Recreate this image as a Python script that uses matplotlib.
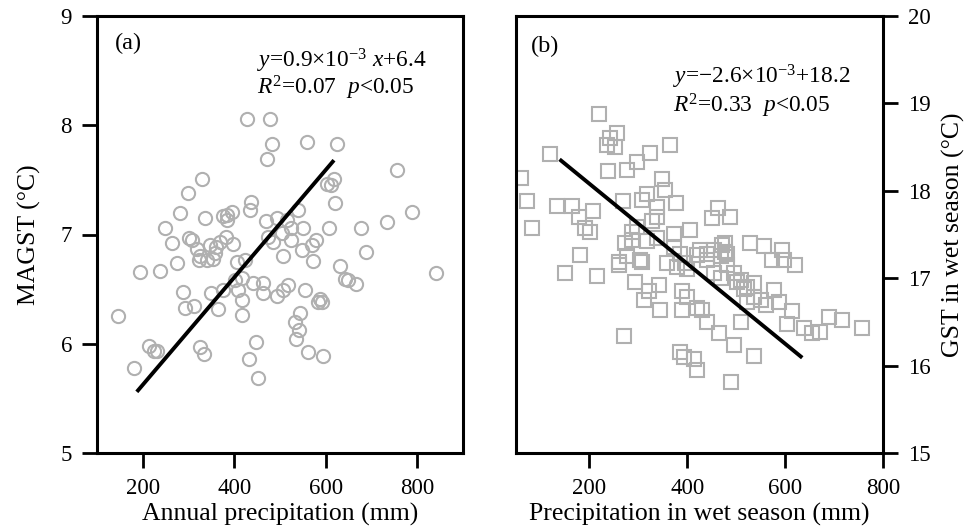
"""Two-panel scatter: ground surface temperature against precipitation.

Panel (a) is MAGST vs annual precipitation, panel (b) is GST vs
precipitation in the wet season. Values were read off the original figure.
"""
import matplotlib
matplotlib.use("Agg")
import matplotlib.pyplot as plt

# panel (a): annual precipitation (mm) vs MAGST (degC)
precip_annual = [
    428, 478, 483, 558, 625, 472, 755, 329, 298, 617, 603, 611, 621, 282, 789,
    734, 337, 437, 434, 376, 385, 395, 384, 249, 264, 300, 307, 318, 325, 275,
    194, 237, 347, 361, 369, 382, 398, 358, 354, 340, 322, 405, 424, 469, 493,
    515, 540, 474, 485, 504, 525, 551, 525, 547, 569, 578, 573, 506, 607, 678,
    687, 840, 632, 642, 649, 666, 402, 416, 440, 463, 409, 506, 518, 555, 587,
    289, 349, 376, 145, 293, 312, 365, 416, 418, 463, 493, 584, 591, 544, 533,
    541, 534, 562, 593, 447, 432, 451, 213, 224, 231, 325, 334, 180,
]
magst = [
    8.06, 8.06, 7.83, 7.85, 7.83, 7.69, 7.59, 7.51, 7.38, 7.51, 7.46, 7.45, 7.29, 7.20, 7.21,
    7.11, 7.15, 7.30, 7.22, 7.17, 7.13, 7.21, 7.18, 7.06, 6.92, 6.97, 6.95, 6.87, 6.80, 6.74,
    6.66, 6.67, 6.90, 6.89, 6.93, 6.98, 6.91, 6.83, 6.78, 6.77, 6.77, 6.75, 6.77, 7.12, 7.15,
    7.13, 7.22, 6.98, 6.93, 7.01, 7.06, 7.06, 6.95, 6.86, 6.90, 6.95, 6.76, 6.80, 7.06, 7.06,
    6.84, 6.65, 6.71, 6.59, 6.58, 6.55, 6.58, 6.60, 6.56, 6.56, 6.49, 6.49, 6.54, 6.49, 6.41,
    6.47, 6.46, 6.49, 6.25, 6.33, 6.35, 6.32, 6.40, 6.26, 6.46, 6.44, 6.38, 6.38, 6.28, 6.20,
    6.13, 6.04, 5.92, 5.89, 6.02, 5.86, 5.69, 5.98, 5.93, 5.93, 5.97, 5.91, 5.78,
]
fit_a_x = [187, 618]
fit_a_y = [5.56, 7.68]

# panel (b): wet-season precipitation (mm) vs wet-season GST (degC)
precip_wet = [
    220, 256, 242, 236, 253, 364, 120, 324, 297, 277, 237, 348, 355, 60, 72,
    82, 133, 164, 178, 208, 191, 202, 268, 318, 338, 307, 377, 338, 328, 297,
    287, 463, 451, 488, 406, 372, 181, 287, 273, 318, 338, 529, 556, 594, 574,
    597, 621, 427, 441, 454, 471, 481, 372, 386, 396, 260, 304, 150, 215, 260,
    277, 308, 359, 379, 400, 420, 440, 468, 481, 454, 495, 509, 523, 536, 294,
    321, 311, 342, 345, 389, 399, 389, 420, 430, 441, 464, 495, 468, 502, 516,
    536, 522, 550, 560, 577, 587, 615, 604, 509, 638, 655, 672, 690, 717, 758,
    271, 386, 393, 413, 420, 536, 490, 478, 478,
]
gst_wet = [
    18.88, 18.66, 18.60, 18.52, 18.50, 18.52, 18.42, 18.43, 18.33, 18.24, 18.23, 18.14, 18.01, 18.15, 17.88,
    17.58, 17.83, 17.83, 17.70, 17.77, 17.57, 17.53, 17.88, 17.96, 17.82, 17.89, 17.86, 17.70, 17.65, 17.59,
    17.53, 17.80, 17.69, 17.70, 17.55, 17.51, 17.26, 17.44, 17.40, 17.42, 17.46, 17.40, 17.37, 17.32, 17.21,
    17.21, 17.15, 17.32, 17.28, 17.32, 17.38, 17.28, 17.36, 17.28, 17.17, 17.19, 17.21, 17.06, 17.03, 17.15,
    17.25, 17.19, 17.17, 17.13, 17.11, 17.27, 17.21, 17.25, 17.15, 17.06, 17.06, 16.98, 16.90, 16.94, 16.96,
    16.85, 16.75, 16.92, 16.64, 16.85, 16.79, 16.64, 16.66, 16.64, 16.50, 16.37, 16.24, 17.00, 16.96, 16.88,
    16.79, 16.73, 16.75, 16.69, 16.86, 16.73, 16.62, 16.48, 16.50, 16.43, 16.37, 16.39, 16.56, 16.52, 16.43,
    16.34, 16.16, 16.10, 16.08, 15.95, 16.11, 15.81, 17.30, 17.40,
]
fit_b_x = [139, 635]
fit_b_y = [18.36, 16.09]

a_xticks = [200, 400, 600, 800]
a_yticks = [5, 6, 7, 8, 9]
b_xticks = [200, 400, 600, 800]
b_yticks = [15, 16, 17, 18, 19, 20]

GREY = '#b0b0b0'


def style_axes(ax):
    """Thick black frame, outward ticks, serif labels."""
    for sp in ax.spines.values():
        sp.set_linewidth(2.2)
    ax.tick_params(direction='out', length=11, width=2.0, labelsize=16.5, pad=7)


def plot_panel_a(ax):
    ax.plot(precip_annual, magst, 'o', ms=9.5, mfc='none', mec=GREY, mew=1.5)
    ax.plot(fit_a_x, fit_a_y, color='black', lw=2.8, solid_capstyle='butt')
    ax.set_xlim(100, 900)
    ax.set_ylim(5, 9)
    ax.set_xticks(a_xticks)
    ax.set_yticks(a_yticks)
    style_axes(ax)
    ax.set_xlabel('Annual precipitation (mm)', fontsize=18.5, labelpad=3)
    ax.set_ylabel('MAGST (°C)', fontsize=18.5, labelpad=14)
    ax.text(0.05, 0.938, '(a)', transform=ax.transAxes, fontsize=17.5, va='center')
    ax.text(0.437, 0.898, r'$y$=0.9×10$^{-3}$ $x$+6.4', transform=ax.transAxes,
            fontsize=16.8, va='center')
    ax.text(0.437, 0.836, r'$R^2$=0.07  $p$<0.05', transform=ax.transAxes,
            fontsize=16.8, va='center')


def plot_panel_b(ax):
    ax.plot(precip_wet, gst_wet, 's', ms=9.5, mfc='none', mec=GREY, mew=1.5)
    ax.plot(fit_b_x, fit_b_y, color='black', lw=2.8, solid_capstyle='butt')
    ax.set_xlim(50, 800)
    ax.set_ylim(15, 20)
    ax.set_xticks(b_xticks)
    ax.set_yticks(b_yticks)
    ax.yaxis.tick_right()
    ax.yaxis.set_label_position('right')
    style_axes(ax)
    ax.set_xlabel('Precipitation in wet season (mm)', fontsize=18.5, labelpad=3)
    ax.set_ylabel('GST in wet season (°C)', fontsize=18.5, labelpad=8)
    ax.text(0.04, 0.93, '(b)', transform=ax.transAxes, fontsize=17.5, va='center')
    ax.text(0.428, 0.86, r'$y$=−2.6×10$^{-3}$+18.2', transform=ax.transAxes,
            fontsize=16.8, va='center')
    ax.text(0.428, 0.794, r'$R^2$=0.33  $p$<0.05', transform=ax.transAxes,
            fontsize=16.8, va='center')


def main():
    plt.rcParams['font.family'] = ['Liberation Serif', 'DejaVu Serif']
    plt.rcParams['mathtext.fontset'] = 'custom'
    plt.rcParams['mathtext.rm'] = 'Liberation Serif'
    plt.rcParams['mathtext.it'] = 'Liberation Serif:italic'

    W, H = 969, 532
    fig = plt.figure(figsize=(W / 100, H / 100), dpi=100)
    # axes boxes in pixels (left, bottom, width, height)
    ax_a = fig.add_axes([97 / W, 79 / H, 366 / W, 437 / H])
    ax_b = fig.add_axes([516 / W, 79 / H, 367 / W, 437 / H])
    plot_panel_a(ax_a)
    plot_panel_b(ax_b)
    fig.savefig('out.png', dpi=100)
    plt.close(fig)


if __name__ == '__main__':
    main()
